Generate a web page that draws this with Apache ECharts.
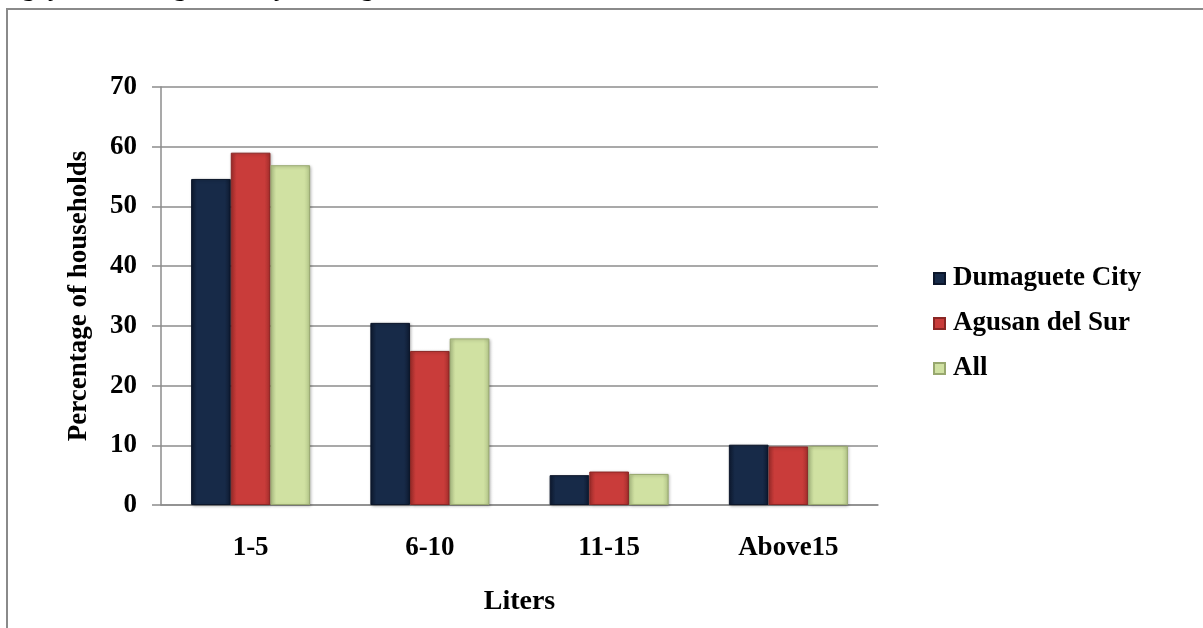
<!DOCTYPE html>
<html>
<head>
<meta charset="utf-8">
<script src="https://cdn.jsdelivr.net/npm/echarts@6/dist/echarts.min.js"></script>
<style>
html,body{margin:0;padding:0;background:#fff;}
#c{width:1203px;height:628px;}
</style>
</head>
<body>
<div id="c"></div>
<script>
const categories = ['1-5', '6-10', '11-15', 'Above15'];
const dumaguete = [54.6, 30.5, 5.0, 10.1];
const agusan = [59.0, 25.8, 5.6, 9.8];
const allHouseholds = [56.9, 27.9, 5.2, 9.9];
const seriesNames = ['Dumaguete City', 'Agusan del Sur', 'All'];
const yTicks = [0, 10, 20, 30, 40, 50, 60, 70];

const FONT = '"Liberation Serif", "Times New Roman", serif';

function grad(edge, mid) {
  return new echarts.graphic.LinearGradient(0, 0, 1, 0, [
    {offset: 0, color: edge},
    {offset: 0.15, color: mid},
    {offset: 0.85, color: mid},
    {offset: 1, color: edge}
  ]);
}
const styles = [
  {color: grad('#0e1a30', '#172a48'), borderColor: '#0c162a', legend: '#1b2f50'},
  {color: grad('#a32e2c', '#c93c3a'), borderColor: '#8a2624', legend: '#c93c3a'},
  {color: grad('#b4c68a', '#d0e1a2'), borderColor: '#98a86f', legend: '#c6d89a'}
];
const datas = [dumaguete, agusan, allHouseholds];

const chart = echarts.init(document.getElementById('c'), null, {renderer: 'canvas'});
chart.setOption({
  animation: false,
  backgroundColor: '#ffffff',
  graphic: [
    {type: 'rect', shape: {x: 7, y: 9, width: 1250, height: 700}, style: {fill: 'none', stroke: '#8a8a8a', lineWidth: 2}, silent: true, z: 100},
    {type: 'text', x: 575, y: 2, style: {text: 'Table 5. Daily water use of households in sample barangays in Dumaguete City and Agusan del Sur, 2008', font: 'bold 26px ' + FONT, fill: '#000', align: 'right', verticalAlign: 'bottom'}, silent: true}
  ],
  grid: {left: 161, right: 325, top: 87, bottom: 123, containLabel: false},
  legend: {
    orient: 'vertical',
    left: 933, top: 265,
    padding: 0,
    itemWidth: 11, itemHeight: 11, itemGap: 18,
    icon: 'rect',
    textStyle: {fontFamily: FONT, fontWeight: 'bold', fontSize: 27, color: '#000', padding: [0, 0, 0, 3]},
    data: seriesNames
  },
  xAxis: {
    type: 'category',
    data: categories,
    name: 'Liters',
    nameLocation: 'middle',
    nameGap: 83,
    nameTextStyle: {fontFamily: FONT, fontWeight: 'bold', fontSize: 28, color: '#000'},
    axisLine: {lineStyle: {color: '#8c8c8c', width: 1.5}},
    axisTick: {show: false},
    axisLabel: {fontFamily: FONT, fontWeight: 'bold', fontSize: 27, color: '#000', margin: 30}
  },
  yAxis: {
    type: 'value',
    min: 0, max: 70, interval: 10,
    name: 'Percentage of households',
    nameLocation: 'middle',
    nameGap: 68,
    nameTextStyle: {fontFamily: FONT, fontWeight: 'bold', fontSize: 27, color: '#000'},
    axisLine: {show: true, lineStyle: {color: '#8c8c8c', width: 1.5}},
    axisTick: {show: true, length: 9, lineStyle: {color: '#8c8c8c', width: 1.5}},
    splitLine: {lineStyle: {color: '#8c8c8c', width: 1.5}},
    axisLabel: {fontFamily: FONT, fontWeight: 'bold', fontSize: 27, color: '#000', margin: 24,
      formatter: v => yTicks.includes(v) ? String(v) : ''}
  },
  series: datas.map((d, i) => ({
    name: seriesNames[i],
    type: 'bar',
    data: d,
    barGap: '0%',
    barCategoryGap: '33.6%',
    color: styles[i].legend,
    itemStyle: {color: styles[i].color, borderColor: styles[i].borderColor, borderWidth: 1,
      shadowColor: 'rgba(0,0,0,0.25)', shadowBlur: 3, shadowOffsetX: 1, shadowOffsetY: 1}
  }))
});
</script>
</body>
</html>
